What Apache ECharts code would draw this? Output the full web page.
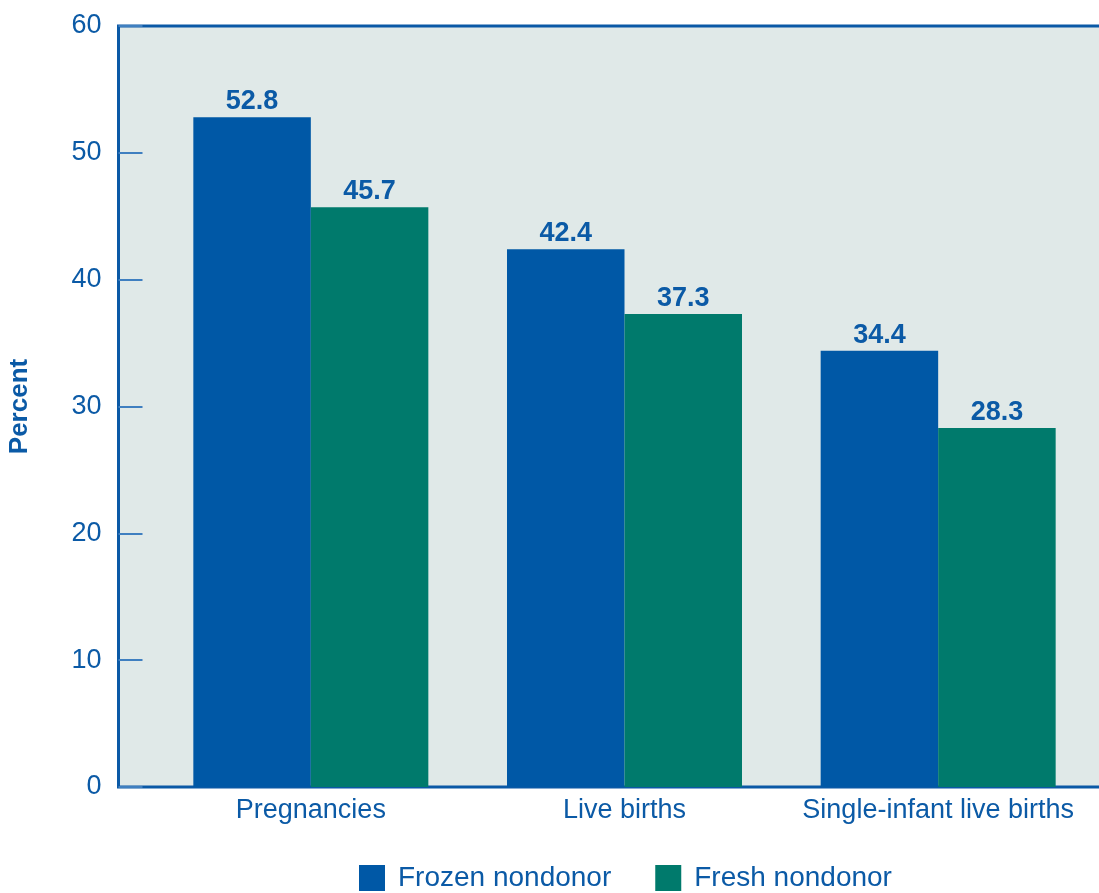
<!DOCTYPE html>
<html>
<head>
<meta charset="utf-8">
<script src="https://cdn.jsdelivr.net/npm/echarts@6/dist/echarts.min.js"></script>
<style>
  html, body { margin: 0; padding: 0; background: #fff; }
  #chart { width: 1099px; height: 893px; }
</style>
</head>
<body>
<div id="chart"></div>
<script>
const categories = ['Pregnancies', 'Live births', 'Single-infant live births']
const frozenValues = [52.8, 42.4, 34.4]
const freshValues = [45.7, 37.3, 28.3]
const seriesNames = ['Frozen nondonor', 'Fresh nondonor']

const textBlue = '#0b5aa6'
const blue = '#0058a6'
const green = '#007a6c'
const font = "'Liberation Sans', Arial, Helvetica, sans-serif"

const chart = echarts.init(document.getElementById('chart'))

const labelStyle = {
  show: true,
  position: 'top',
  distance: 2,
  color: textBlue,
  fontSize: 27,
  fontWeight: 'bold',
  fontFamily: font,
  formatter: (p) => p.value.toFixed(1),
}

chart.setOption({
  animation: false,
  textStyle: { fontFamily: font },
  grid: [
    // frame + y axis (right side runs off the page, as in the original)
    {
      left: 118.5, right: -12, top: 26, bottom: 106,
      outerBoundsMode: 'none',
      show: true, backgroundColor: '#e0e9e8',
      borderColor: '#0a59a6', borderWidth: 3,
    },
    // bars
    { left: 154, right: 4, top: 26, bottom: 106, outerBoundsMode: 'none' },
  ],
  xAxis: [
    { gridIndex: 0, type: 'value', show: false, min: 0, max: 1 },
    {
      gridIndex: 1,
      type: 'category',
      data: categories,
      axisLine: { show: false },
      axisTick: { show: false },
      axisLabel: { interval: 0, color: textBlue, fontSize: 27, margin: 10, fontFamily: font },
    },
  ],
  yAxis: [
    {
      gridIndex: 0,
      type: 'value',
      min: 0, max: 60, interval: 10,
      name: 'Percent',
      nameLocation: 'middle',
      nameGap: 86,
      nameTextStyle: { color: textBlue, fontSize: 26, fontWeight: 'bold', fontFamily: font },
      axisLine: { show: false },
      axisTick: { show: true, inside: true, length: 24, lineStyle: { color: '#3f7fc0', width: 2 } },
      axisLabel: { color: textBlue, fontSize: 27, margin: 17, fontFamily: font },
      splitLine: { show: false },
    },
    { gridIndex: 1, type: 'value', min: 0, max: 60, show: false },
  ],
  legend: {
    data: seriesNames,
    left: 354,
    top: 859,
    itemWidth: 26,
    itemHeight: 26,
    itemGap: 44,
    icon: 'rect',
    textStyle: { color: textBlue, fontSize: 28, fontFamily: font, padding: [0, 0, 0, 8] },
  },
  series: [
    {
      name: seriesNames[0],
      type: 'bar',
      xAxisIndex: 1, yAxisIndex: 1,
      data: frozenValues,
      barWidth: 117.5,
      barGap: '0%',
      itemStyle: { color: blue },
      label: labelStyle,
    },
    {
      name: seriesNames[1],
      type: 'bar',
      xAxisIndex: 1, yAxisIndex: 1,
      data: freshValues,
      barWidth: 117.5,
      barGap: '0%',
      itemStyle: { color: green },
      label: labelStyle,
    },
  ],
})
</script>
</body>
</html>
